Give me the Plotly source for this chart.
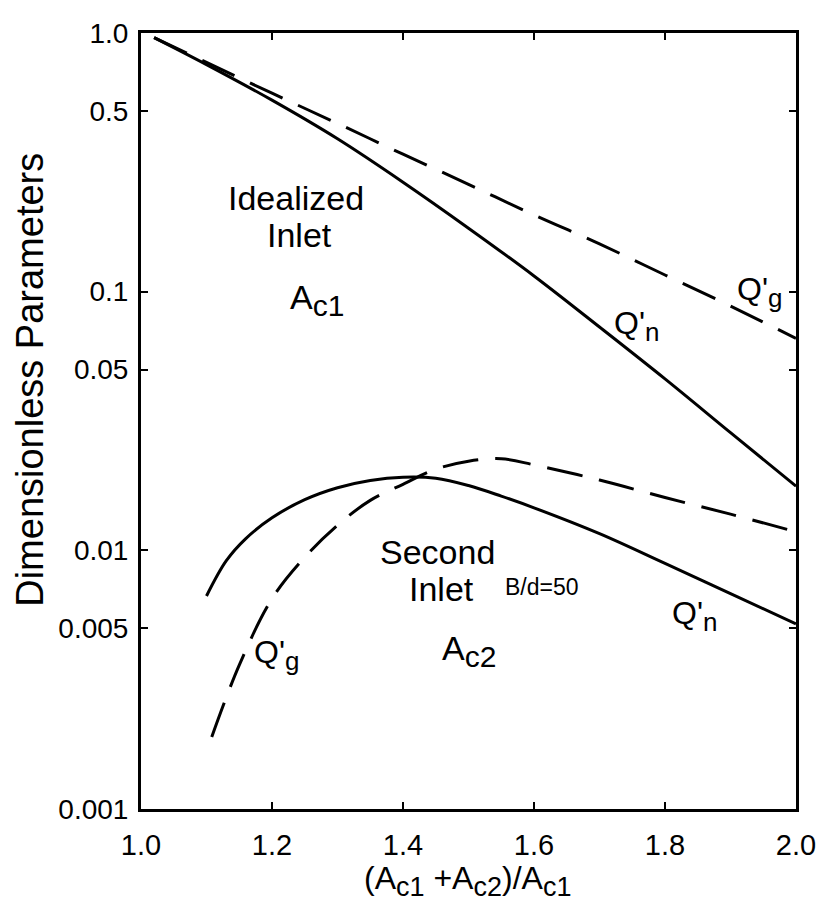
import plotly.graph_objects as go

# ---------------- data ----------------
x_ideal = [1.02, 1.1, 1.2, 1.3, 1.4, 1.5, 1.6, 1.7, 1.8, 1.9, 2.0]
qn_ideal = [0.96, 0.755, 0.55, 0.39, 0.265, 0.176, 0.115, 0.073, 0.046, 0.0285, 0.0177]
qg_ideal = [0.96, 0.77, 0.585, 0.447, 0.34, 0.26, 0.198, 0.153, 0.116, 0.088, 0.066]

x_n2 = [1.10, 1.13, 1.16, 1.20, 1.25, 1.30, 1.35, 1.40, 1.45, 1.50, 1.55, 1.60, 1.70, 1.80, 1.90, 2.00]
qn2 = [0.00666, 0.0091, 0.0111, 0.01336, 0.0157, 0.01746, 0.01862, 0.01917, 0.019, 0.0178, 0.0162, 0.0146, 0.0116, 0.0089, 0.0068, 0.0052]

x_g2 = [1.108, 1.15, 1.20, 1.25, 1.30, 1.35, 1.40, 1.45, 1.50, 1.55, 1.60, 1.70, 1.80, 1.90, 2.00]
qg2 = [0.0019, 0.0036, 0.0065, 0.0094, 0.0125, 0.0156, 0.018, 0.0206, 0.0221, 0.0226, 0.0214, 0.0187, 0.016, 0.0138, 0.0118]

x_tickvals = [1.0, 1.2, 1.4, 1.6, 1.8, 2.0]
x_ticktext = ["1.0", "1.2", "1.4", "1.6", "1.8", "2.0"]
y_tickvals = [1.0, 0.5, 0.1, 0.05, 0.01, 0.005, 0.001]
y_ticktext = ["1.0", "0.5", "0.1", "0.05", "0.01", "0.005", "0.001"]

# ---------------- figure ----------------
# page has an 8px body margin; plot area should land at page x 141..799, y 18..809
OFF = 8
PL, PR, PT, PB = 141, 799, 18, 809
W, H = 818, 900
L, T = PL - OFF, PT - OFF
R = W - (PR - OFF)
B = H - (PB - OFF)
FONT = "Liberation Sans, Arial, sans-serif"
DASH = "36px,17px"

fig = go.Figure()
line_solid = dict(color="black", width=3, shape="spline", smoothing=1.0)
line_dash = dict(color="black", width=3, shape="spline", smoothing=1.0, dash=DASH)

fig.add_trace(go.Scatter(x=x_ideal, y=qn_ideal, mode="lines", line=line_solid, name="Q'n idealized"))
fig.add_trace(go.Scatter(x=x_ideal, y=qg_ideal, mode="lines", line=line_dash, name="Q'g idealized"))
fig.add_trace(go.Scatter(x=x_n2, y=qn2, mode="lines", line=line_solid, name="Q'n second"))
fig.add_trace(go.Scatter(x=x_g2, y=qg2, mode="lines", line=line_dash, name="Q'g second"))


def px(xp):
    return (xp - PL) / (PR - PL)


def py(yp):
    return (PB - yp) / (PB - PT)


def sub(text, size):
    return '<sub><span style="font-size:%dpx">%s</span></sub>' % (size, text)


def label(text, xp, yp, size=34):
    fig.add_annotation(text=text, x=px(xp), y=py(yp), xref="paper", yref="paper",
                       showarrow=False, xanchor="center", yanchor="middle",
                       font=dict(family=FONT, size=size, color="black"))


label("Idealized", 297, 186)
label("Inlet", 300, 224)
label("A" + sub("c1", 30), 318, 290)
label("Second", 439, 547)
label("Inlet", 443, 585)
label("B/d=50", 544, 583, size=23)
label("A" + sub("c2", 30), 470, 648)
label("Q'" + sub("g", 26), 762, 282, size=32)
label("Q'" + sub("n", 26), 639, 317, size=32)
label("Q'" + sub("n", 26), 697, 612, size=32)
label("Q'" + sub("g", 26), 277, 652, size=32)

fig.add_annotation(text="Dimensionless Parameters", x=px(30), y=py(372), xref="paper", yref="paper",
                   showarrow=False, textangle=-90, xanchor="center", yanchor="middle",
                   font=dict(family=FONT, size=38, color="black"))
fig.add_annotation(text="(A" + sub("c1", 27) + " +A" + sub("c2", 27) + ")/A" + sub("c1", 27),
                   x=px(469), y=py(882),
                   xref="paper", yref="paper", showarrow=False, xanchor="center", yanchor="middle",
                   font=dict(family=FONT, size=32, color="black"))

axis_common = dict(showline=True, linecolor="black", linewidth=3, mirror="ticks",
                   ticks="inside", ticklen=7, tickwidth=2, tickcolor="black",
                   showgrid=False, zeroline=False, ticklabeloverflow="allow",
                   tickfont=dict(family=FONT, size=28, color="black"))

fig.update_xaxes(range=[1.0, 2.0], tickvals=x_tickvals, ticktext=x_ticktext,
                 ticklabelstandoff=8, **axis_common)
fig.update_yaxes(type="log", range=[-3, 0], tickvals=y_tickvals, ticktext=y_ticktext,
                 ticklabelstandoff=4, **axis_common)
fig.update_xaxes(tickfont=dict(family=FONT, size=29, color="black"))

fig.update_layout(width=W, height=H, margin=dict(l=L, r=R, t=T, b=B),
                  paper_bgcolor="white", plot_bgcolor="white", showlegend=False)

fig.write_html("out.html")
